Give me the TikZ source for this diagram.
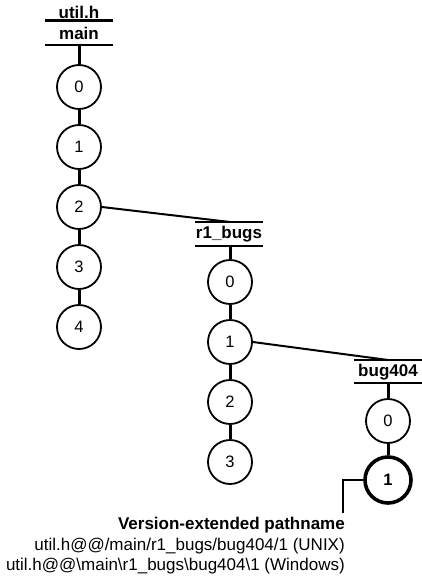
\documentclass[tikz,border=0pt]{standalone}
\usepackage{fontspec}
\setmainfont{Liberation Sans}
\begin{document}
\begin{tikzpicture}[x=1pt,y=-1pt,
 ver/.style={circle,draw,line width=1.8pt,minimum size=44pt,inner sep=0pt,font=\fontsize{16.5}{16.5}\selectfont},
 verb/.style={ver,line width=3.6pt,minimum size=46pt,font=\bfseries\fontsize{16.5}{16.5}\selectfont},
 lbl/.style={font=\bfseries\fontsize{17}{17}\selectfont,inner sep=0pt},
 txt/.style={font=\fontsize{17}{17}\selectfont,inner sep=0pt,anchor=east},
 bar/.style={line width=2.6pt},
 stick/.style={line width=3pt},
 link/.style={line width=2pt}]
\useasboundingbox (0,0) rectangle (422,576);
% main branch
\node[lbl] (elem) at (79,12) {util.h};
\draw[bar] (45,20.7) -- (113,20.7);
\node[lbl] (mainlbl) at (79,33) {main};
\draw[bar] (45,45) -- (113,45);
\coordinate (mh) at (79,45);
\node[ver] (m0) at (79,87) {0};
\node[ver] (m1) at (79,147) {1};
\node[ver] (m2) at (79,207) {2};
\node[ver] (m3) at (79,267) {3};
\node[ver] (m4) at (79,327) {4};
\draw[stick] (mh) -- (m0);
\draw[stick] (m0) -- (m1);
\draw[stick] (m1) -- (m2);
\draw[stick] (m2) -- (m3);
\draw[stick] (m3) -- (m4);
% r1_bugs branch
\coordinate (rt) at (230,222);
\draw[bar] (195,222) -- (263,222);
\node[lbl] (rlbl) at (229,234) {r1\_bugs};
\draw[bar] (195,246) -- (263,246);
\coordinate (rh) at (230,246);
\node[ver] (r0) at (230,282) {0};
\node[ver] (r1) at (230,342) {1};
\node[ver] (r2) at (230,402) {2};
\node[ver] (r3) at (230,462) {3};
\draw[stick] (rh) -- (r0);
\draw[stick] (r0) -- (r1);
\draw[stick] (r1) -- (r2);
\draw[stick] (r2) -- (r3);
\draw[link] (m2.east) -- (rt);
% bug404 branch
\coordinate (bt) at (388,360);
\draw[bar] (354,360) -- (422,360);
\node[lbl] (blbl) at (388,372) {bug404};
\draw[bar] (354,383) -- (422,383);
\coordinate (bh) at (388,383);
\node[ver] (b0) at (388,421) {0};
\node[verb] (b1) at (388,480) {1};
\draw[stick] (bh) -- (b0);
\draw[stick] (b0) -- (b1);
\draw[link] (r1.east) -- (bt);
% leader and caption
\coordinate (lead) at (343,513);
\draw[line width=1.5pt] (b1.west) -| (lead);
\node[lbl,anchor=east] (cap) at (345,525) {Version-extended pathname};
\node[txt] (unix) at (345,546) {util.h@@/main/r1\_bugs/bug404/1 (UNIX)};
\node[txt] (win) at (345,566) {util.h@@\textbackslash main\textbackslash r1\_bugs\textbackslash bug404\textbackslash 1 (Windows)};
\end{tikzpicture}
\end{document}
